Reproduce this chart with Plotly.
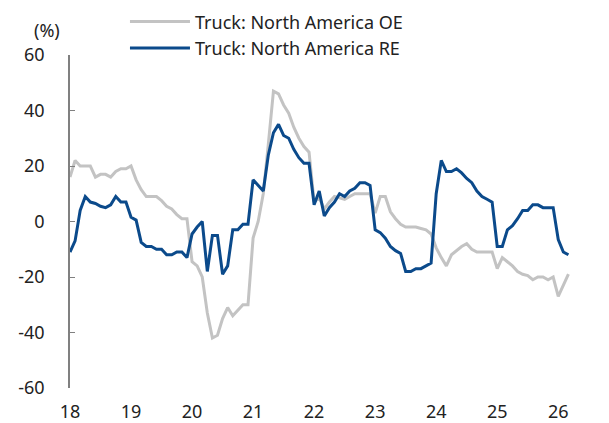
import plotly.graph_objects as go

# Monthly data, Jan 2018 .. Mar 2026
start_year = 2018
oe_values = [16, 22, 20, 20, 20, 16, 17, 17, 16, 18, 19, 19,
             20, 15, 11.5, 9, 9, 9, 7.5, 5.5, 4.5, 2.5, 1, 1,
             -14.5, -16, -20, -33, -42, -41, -35, -31, -34, -32, -30, -30,
             -6, 0, 10, 28, 47, 46, 42, 39, 34, 30, 27, 25,
             7, 8.5, 4.5, 7, 9, 8.5, 8, 9, 10, 10, 10, 10,
             3, 9, 9, 3.5, 1, -1, -2, -2, -2, -2.5, -3, -4.5,
             -9.5, -13, -16, -12, -10.5, -9, -8, -10, -11, -11, -11, -11,
             -17, -13, -14.5, -16, -18, -19, -19.5, -21, -20, -20, -21, -20,
             -27, -23, -19]
re_values = [-11, -7, 4, 9, 7, 6.5, 5.5, 5, 6, 9, 7, 7,
             1.5, 0.5, -7.5, -9, -9, -10, -10, -12, -12, -11, -11, -13,
             -4.5, -2, 0, -18, -5, -5, -19, -16, -3, -3, -1, -1,
             15, 13, 11, 24, 32, 35, 31, 30, 26, 23, 21, 21,
             6, 11, 2, 5, 7, 10, 9, 11, 12, 14, 14, 13,
             -3, -4, -6, -9, -10.5, -11.5, -18, -18, -17, -17, -16, -15,
             10, 22, 18, 18, 19, 17.5, 15.5, 14, 11, 9, 8, 7,
             -9, -9, -3, -1.5, 1, 4, 4, 6, 6, 5, 5, 5,
             -6.5, -11, -12]
series_names = ["Truck: North America OE", "Truck: North America RE"]
tick_years = list(range(2018, 2027))
tick_labels = [str(y)[2:] for y in tick_years]
y_ticks = [-60, -40, -20, 0, 20, 40, 60]
y_tick_labels = ["-60", "-40", "-20", "0", "20", "40", "60"]

x_vals = [start_year + i / 12 for i in range(len(oe_values))]

FONT = "Noto Sans"
FS = 18
TXT = "#222222"
AX = "#808080"

fig = go.Figure()
fig.add_trace(go.Scatter(x=x_vals, y=oe_values, mode="lines", name=series_names[0],
                         legendgroup="a", line=dict(color="#C3C3C3", width=3)))
fig.add_trace(go.Scatter(x=x_vals, y=re_values, mode="lines", name=series_names[1],
                         legendgroup="b", line=dict(color="#0B4A8B", width=3)))

xr = [2018, 2026.34]
fig.update_layout(
    width=601, height=415,
    margin=dict(l=62, r=30, t=47, b=35, autoexpand=False),
    paper_bgcolor="white", plot_bgcolor="white",
    font=dict(family=FONT, size=FS, color=TXT),
    showlegend=True,
    legend=dict(x=0.108, y=1.155, xanchor="left", yanchor="top",
                bgcolor="rgba(0,0,0,0)", tracegroupgap=0, itemwidth=60,
                font=dict(family=FONT, size=FS, color=TXT)),
    xaxis=dict(range=xr, tickvals=tick_years, ticktext=tick_labels,
               showline=False, showgrid=False, zeroline=False, ticks="",
               ticklabelstandoff=11, fixedrange=True),
    xaxis2=dict(range=xr, overlaying="x", anchor="free", position=0.5,
                tickvals=tick_years, showticklabels=False,
                showline=True, linecolor=AX, linewidth=1.5,
                ticks="inside", ticklen=5, tickcolor=AX, tickwidth=1,
                showgrid=False, zeroline=False),
    yaxis=dict(range=[-60, 60], tickvals=y_ticks, ticktext=y_tick_labels,
               showline=True, linecolor=AX,
               linewidth=1.5, ticks="inside", ticklen=5, tickcolor=AX,
               showgrid=False, zeroline=False, ticklabelstandoff=20),
    annotations=[dict(text="(%)", xref="paper", yref="paper", x=-0.045, y=1.076,
                      xanchor="center", yanchor="middle", showarrow=False,
                      font=dict(family=FONT, size=FS, color=TXT))],
)

fig.write_html("out.html")
